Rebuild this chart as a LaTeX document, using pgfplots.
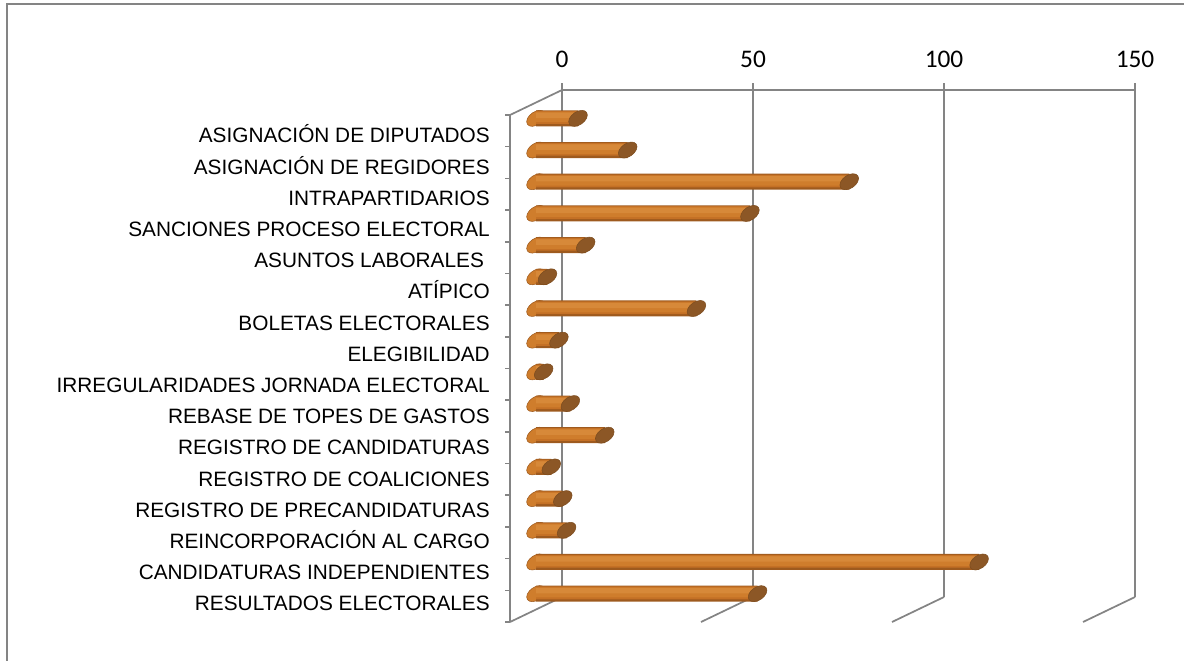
\documentclass[border=0pt]{standalone}
\usepackage{fontspec}
\setmainfont{Liberation Sans}
\newfontfamily\carlito{Carlito}
\usepackage{pgfplots}
\usepackage{pgfplotstable}
\pgfplotsset{compat=1.18}
\definecolor{gridc}{RGB}{132,132,132}
\definecolor{barA}{RGB}{158,90,30}
\definecolor{barB}{RGB}{196,112,37}
\definecolor{barC}{RGB}{207,125,44}
\definecolor{barD}{RGB}{215,137,57}
\definecolor{capc}{RGB}{140,87,38}
\definecolor{capd}{RGB}{125,76,30}
\pgfdeclareplotmark{capmark}{%
  \pgfpathellipse{\pgfpointorigin}{\pgfpoint{7pt}{2.5pt}}{\pgfpoint{0pt}{5.46pt}}%
  \pgfusepathqfillstroke}
\pgfplotstableread{
y v s
16 11 0
15 24 0
14 82 0
13 56 0
12 13 0
11 3 0
10 42 0
9 6 0
8 2 0
7 9 0
6 18 0
5 4 0
4 7 0
3 8 0
2 116 0
1 58 0
}\data
\pgfplotsset{
  plane/.style={scale only axis, width=429.75pt, height=380.25pt,
    xmin=0, xmax=150, ymin=0.5, ymax=16.5, clip=false, anchor=south west},
}
\begin{document}
\begin{tikzpicture}
\useasboundingbox (0,0) rectangle (888pt,-495pt);
\draw[gridc, line width=1.6pt] (5.25pt,-496pt) -- (5.25pt,-3pt) -- (889pt,-3pt);
% back wall
\begin{axis}[plane, at={(421.5pt,-447.75pt)},
  axis line style={draw=none},
  xtick={0,50,100,150}, xticklabels={0,50,100,150},
  xtick pos=upper, xticklabel pos=upper,
  tick align=outside, major tick length=5.25pt,
  x tick style={gridc, line width=2.2pt},
  xmajorgrids, major x grid style={gridc, line width=2.2pt},
  xticklabel style={font=\carlito\fontsize{19}{19}\selectfont, inner sep=0pt, anchor=south, yshift=11.25pt},
  ytick=\empty,
]
\addplot[draw=none, forget plot] coordinates {(0,1)};
\draw[gridc, line width=1.6pt] (axis cs:0,16.5) -- (axis cs:150,16.5);
\coordinate (bt) at (axis cs:0,16.5);
\coordinate (b0) at (axis cs:0,0.5);
\coordinate (b50) at (axis cs:50,0.5);
\coordinate (b100) at (axis cs:100,0.5);
\coordinate (b150) at (axis cs:150,0.5);
\end{axis}
% front (left wall edge)
\begin{axis}[plane, at={(382.5pt,-466.5pt)},
  axis x line=none, axis y line*=left,
  y axis line style={gridc, line width=2pt, -},
  ytick={0.5,1.5,...,16.5}, yticklabels={},
  tick align=outside, major tick length=3.5pt,
  y tick style={gridc, line width=1.2pt},
]
\addplot[draw=none, forget plot] coordinates {(0,1)};
\coordinate (ft) at (axis cs:0,16.5);
\coordinate (f0) at (axis cs:0,0.5);
\coordinate (f50) at (axis cs:50,0.5);
\coordinate (f100) at (axis cs:100,0.5);
\coordinate (f150) at (axis cs:150,0.5);
\end{axis}
\draw[gridc, line width=1.3pt] (bt) -- (ft);
\draw[gridc, line width=1.3pt] (b0) -- (f0);
\draw[gridc, line width=1.3pt] (b50) -- (f50);
\draw[gridc, line width=1.3pt] (b100) -- (f100);
\draw[gridc, line width=1.3pt] (b150) -- (f150);
% category labels
\begin{axis}[scale only axis, width=10pt, height=374.4pt, anchor=south west,
  at={(367.5pt,-464.3pt)}, xmin=0, xmax=1, ymin=0.5, ymax=16.5, clip=false,
  axis line style={draw=none}, xtick=\empty,
  ytick={1,...,16},
  yticklabels={RESULTADOS ELECTORALES, CANDIDATURAS INDEPENDIENTES, REINCORPORACIÓN AL CARGO, REGISTRO DE PRECANDIDATURAS, REGISTRO DE COALICIONES, REGISTRO DE CANDIDATURAS, REBASE DE TOPES DE GASTOS, IRREGULARIDADES JORNADA ELECTORAL, ELEGIBILIDAD, BOLETAS ELECTORALES, ATÍPICO, {ASUNTOS LABORALES\kern0.278em}, SANCIONES PROCESO ELECTORAL, INTRAPARTIDARIOS, ASIGNACIÓN DE REGIDORES, ASIGNACIÓN DE DIPUTADOS},
  y tick style={draw=none}, ytick pos=left,
  yticklabel style={font=\fontsize{15.6}{16}\selectfont, anchor=east, inner sep=0pt, text height=11.2pt, text depth=0pt},
]
\addplot[draw=none, forget plot] coordinates {(0,1)};
\end{axis}
% left ends of the bars
\begin{axis}[plane, at={(402pt,-457.125pt)}, hide axis]
\addplot[only marks, mark=capmark, mark options={fill=barC, draw=barA, line width=0.4pt}] table[x=s, y=y]{\data};
\end{axis}
% bars
\begin{axis}[plane, at={(402pt,-457.125pt)}, hide axis]
\addplot[xbar, bar width=12pt, bar shift=0pt, draw=none, fill=barA] table[x=v, y=y]{\data};
\addplot[xbar, bar width=9.6pt, bar shift=0.6pt, draw=none, fill=barB] table[x=v, y=y]{\data};
\addplot[xbar, bar width=7.5pt, bar shift=0.9pt, draw=none, fill=barC] table[x=v, y=y]{\data};
\addplot[xbar, bar width=4pt, bar shift=2.2pt, draw=none, fill=barD] table[x=v, y=y]{\data};
\addplot[only marks, mark=capmark, mark options={fill=capc, draw=capd, line width=0.4pt}] table[x=v, y=y]{\data};
\end{axis}
\end{tikzpicture}
\end{document}
